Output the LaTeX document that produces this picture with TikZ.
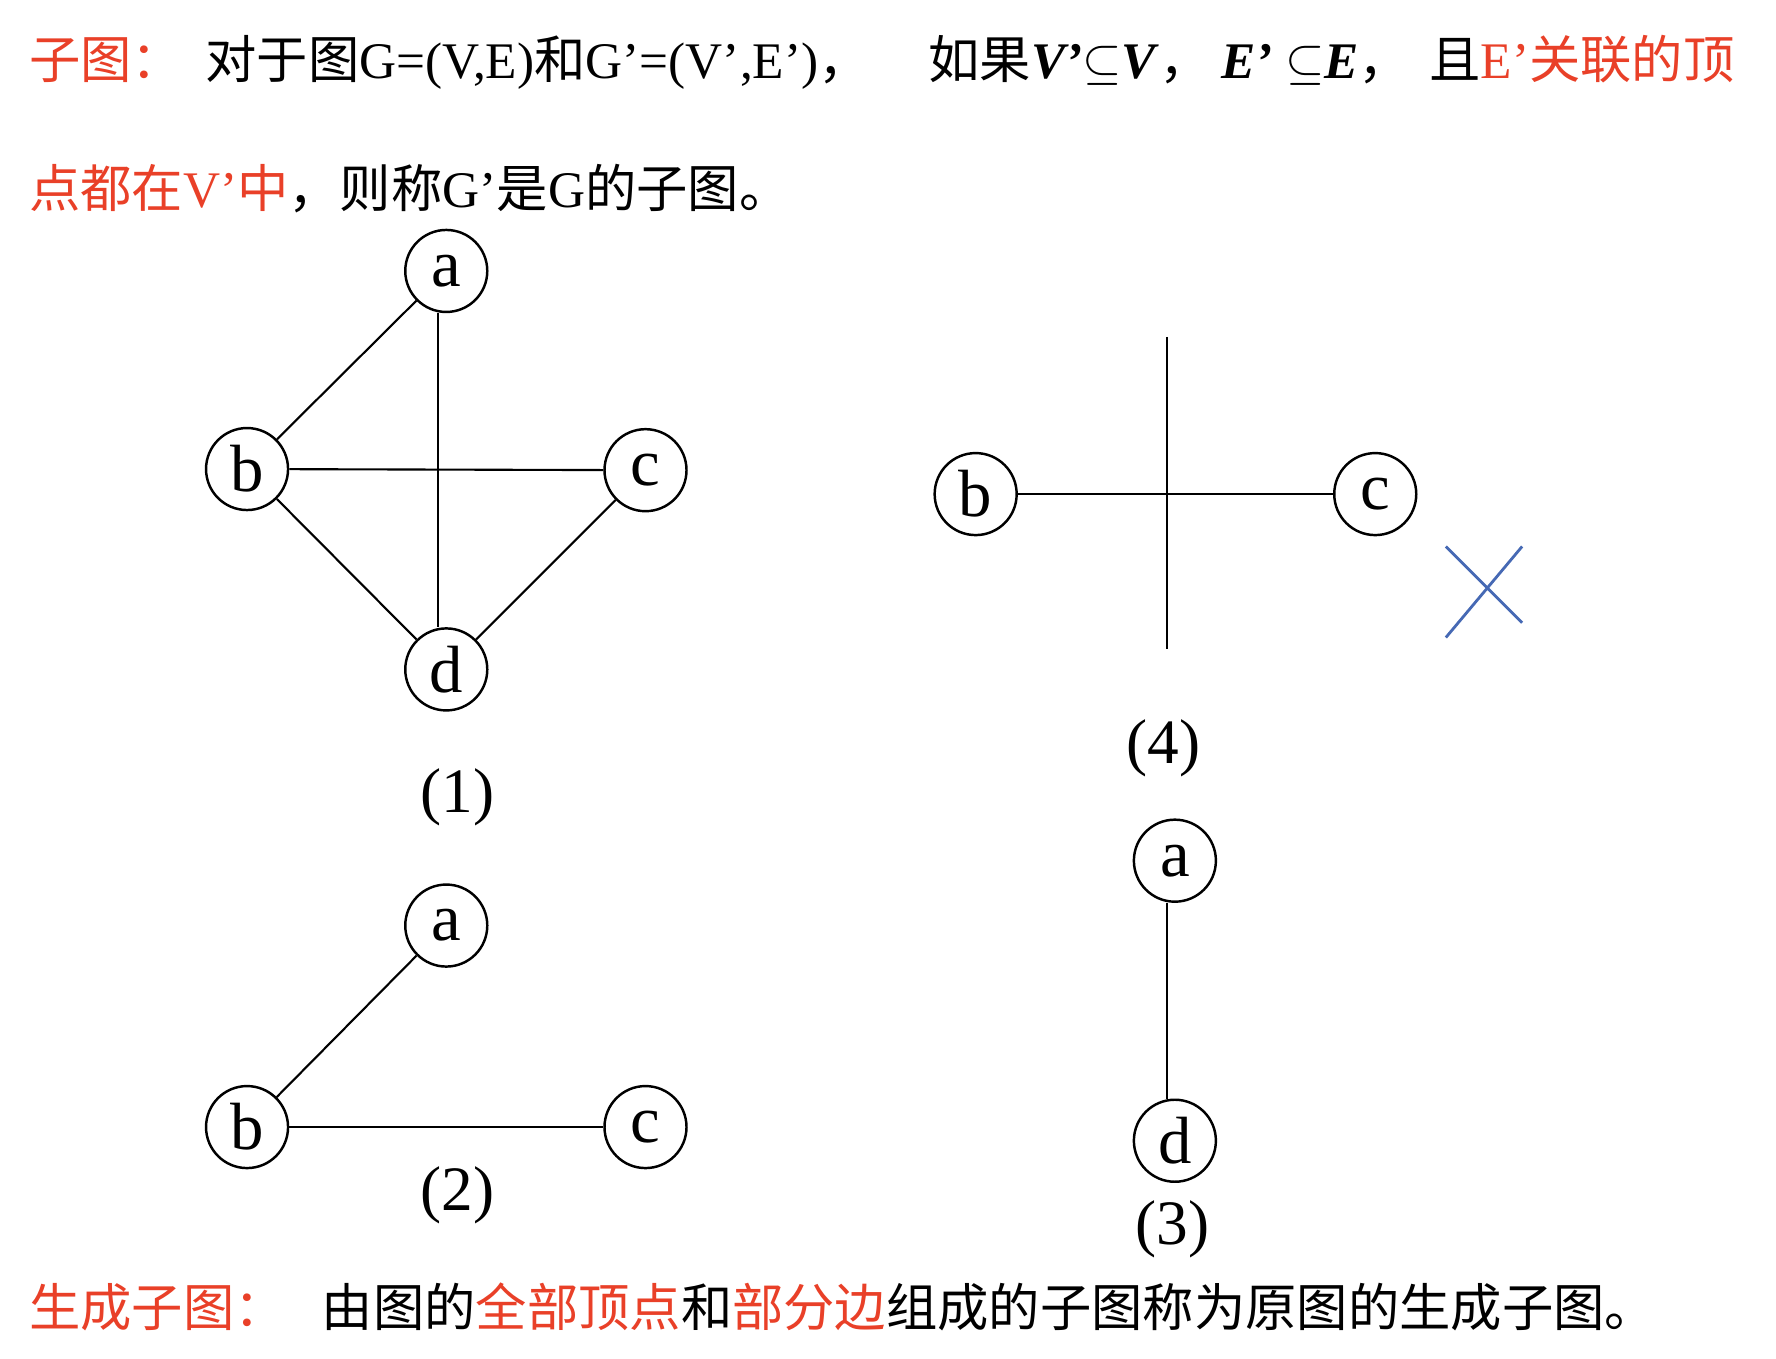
\documentclass[tikz,border=0pt]{standalone}
\usepackage{fontspec}
\setmainfont{Liberation Serif}
\newfontfamily\cjk{Noto Sans CJK SC}
\usepackage{xcolor}
\definecolor{redtxt}{RGB}{233,64,40}
\definecolor{bluex}{RGB}{70,105,180}

\begin{document}
\begin{tikzpicture}[x=0.01138cm, y=-0.01138cm,
		vtx/.style={draw, circle, line width=0.7pt, minimum size=0.82cm, inner sep=0pt, font=\fontsize{19pt}{19pt}\selectfont},
		figlbl/.style={font=\fontsize{18pt}{18pt}\selectfont},
		txt/.style={anchor=base west, inner sep=0pt, font=\fontsize{14.6pt}{17pt}\selectfont},
		edge/.style={line width=0.6pt}]
		\useasboundingbox (0,0) rectangle (1560,1193);
		
		\node (t1) at (25,69) [txt, text=redtxt] {\cjk 子图：};
		\node (t2) at (180,69) [txt] {{\cjk 对于图}G=(V,E){\cjk 和}G’=(V’,E’){\cjk ，}};
		\node (t3) at (815,69) [txt] {{\cjk 如果}\textbf{\textit{V’}}$\subseteq$\textbf{\textit{V}}{\cjk ，}};
		\node (t4) at (1072,69) [txt] {\textbf{\textit{E’}} $\subseteq$\textbf{\textit{E}}{\cjk ，}};
		\node (t5) at (1255,69) [txt] {{\cjk 且}\textcolor{redtxt}{E’{\cjk 关联的顶}}};
		\node (t6) at (25,182) [txt] {\textcolor{redtxt}{{\cjk 点都在}V’{\cjk 中}}{\cjk ，则称}G’{\cjk 是}G{\cjk 的子图。}};
		
		% (1)
		\node (a1) at (392,238) [vtx] {a};
		\node (b1) at (217,412) [vtx] {b};
		\node (c1) at (567,413) [vtx] {c};
		\node (d1) at (392,588) [vtx] {d};
		\draw[edge] (b1) -- (a1);
		\draw[edge] ([xshift=-0.08cm]a1.south) -- ([xshift=-0.08cm]d1.north);
		\draw[edge] (b1) -- (c1);
		\draw[edge] (b1) -- (d1);
		\draw[edge] (c1) -- (d1);
		\node (l1) at (402,700) [figlbl] {(1)};
		
		% (4)
		\node (b4) at (857,434) [vtx] {b};
		\node (c4) at (1208,434) [vtx] {c};
		\coordinate (v4top) at (1025,296);
		\coordinate (v4bot) at (1025,570);
		\draw[edge] (b4) -- (c4);
		\draw[edge] (v4top) -- (v4bot);
		\coordinate (x1) at (1270,480);
		\coordinate (x2) at (1337,547);
		\coordinate (x3) at (1270,560);
		\coordinate (x4) at (1337,480);
		\draw[bluex, line width=0.8pt] (x1) -- (x2) (x3) -- (x4);
		\node (l4) at (1022,657) [figlbl] {(4)};
		
		% (3)
		\node (a3) at (1032,756) [vtx] {a};
		\node (d3) at (1032,1002) [vtx] {d};
		\draw[edge] ([xshift=-0.08cm]a3.south) -- ([xshift=-0.08cm]d3.north);
		\node (l3) at (1030,1080) [figlbl] {(3)};
		
		% (2)
		\node (a2) at (392,813) [vtx] {a};
		\node (b2) at (217,990) [vtx] {b};
		\node (c2) at (567,990) [vtx] {c};
		\draw[edge] (b2) -- (a2);
		\draw[edge] (b2) -- (c2);
		\node (l2) at (402,1050) [figlbl] {(2)};
		
		\node (t7) at (25,1165) [txt, text=redtxt] {\cjk 生成子图：};
		\node (t8) at (282,1165) [txt] {\cjk 由图的\textcolor{redtxt}{全部顶点}和\textcolor{redtxt}{部分边}组成的子图称为原图的生成子图。};
		
	\end{tikzpicture}
\end{document}
